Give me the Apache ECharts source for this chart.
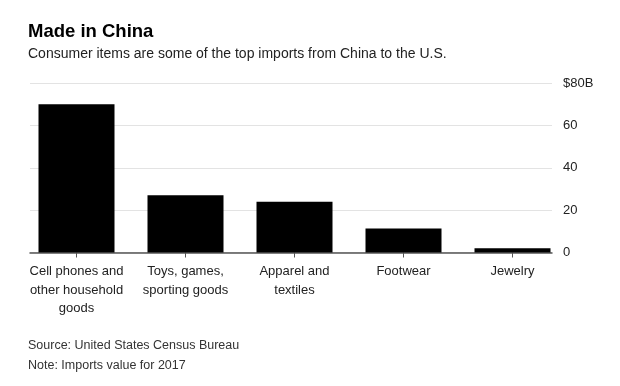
<!DOCTYPE html>
<html>
<head>
<meta charset="utf-8">
<script src="https://cdn.jsdelivr.net/npm/echarts@6/dist/echarts.min.js"></script>
<style>html,body{margin:0;padding:0;background:#fff}#c{width:620px;height:386px}</style>
</head>
<body>
<div id="c"></div>
<script>
var categories = ['Cell phones and\nother household\ngoods', 'Toys, games,\nsporting goods', 'Apparel and\ntextiles', 'Footwear', 'Jewelry'];
var values = [70, 27, 24, 11.3, 2];
var yTicks = [0, 20, 40, 60, 80];

var FONT = '"Liberation Sans", Arial, sans-serif';
var chart = echarts.init(document.getElementById('c'), null, {renderer: 'canvas'});
chart.setOption({
  backgroundColor: '#fff',
  animation: false,
  title: [
    {text: 'Made in China', left: 28, top: 22, padding: 0,
     textStyle: {fontFamily: FONT, fontSize: 18.5, fontWeight: 'bold', color: '#000'}},
    {text: 'Consumer items are some of the top imports from China to the U.S.', left: 28, top: 47, padding: 0,
     textStyle: {fontFamily: FONT, fontSize: 14, fontWeight: 'normal', color: '#222'}},
    {text: 'Source: United States Census Bureau', left: 28, top: 339, padding: 0,
     textStyle: {fontFamily: FONT, fontSize: 12.5, fontWeight: 'normal', color: '#333'}},
    {text: 'Note: Imports value for 2017', left: 28, top: 359, padding: 0,
     textStyle: {fontFamily: FONT, fontSize: 12.5, fontWeight: 'normal', color: '#333'}}
  ],
  grid: [
    {left: 30, right: 68, top: 83, bottom: 133.5},
    {left: 22, right: 53, top: 83, bottom: 133.5}
  ],
  xAxis: [
    {gridIndex: 0, type: 'category', data: categories, show: true,
     axisLine: {show: true, lineStyle: {color: '#555', width: 1.5}},
     axisTick: {show: false}, axisLabel: {show: false}},
    {gridIndex: 1, type: 'category', data: categories,
     axisLine: {show: false},
     axisTick: {show: true, alignWithLabel: true, length: 5, lineStyle: {color: '#555', width: 1}},
     axisLabel: {fontFamily: FONT, fontSize: 13, color: '#222', lineHeight: 18.3, margin: 10, interval: 0}}
  ],
  yAxis: [
    {gridIndex: 0, type: 'value', position: 'right', min: 0, max: 80, interval: 20,
     axisLine: {show: false}, axisTick: {show: false},
     splitLine: {lineStyle: {color: '#e3e3e3', width: 1}},
     axisLabel: {fontFamily: FONT, fontSize: 13, color: '#222', margin: 11, align: 'left',
       formatter: function (v) { return v === 80 ? '$80B' : String(v); }}},
    {gridIndex: 1, type: 'value', min: 0, max: 80, interval: 20, show: false, splitLine: {show: false}}
  ],
  series: [{
    type: 'bar', xAxisIndex: 1, yAxisIndex: 1, data: values,
    barWidth: 76, itemStyle: {color: '#000'}
  }]
});
</script>
</body>
</html>
